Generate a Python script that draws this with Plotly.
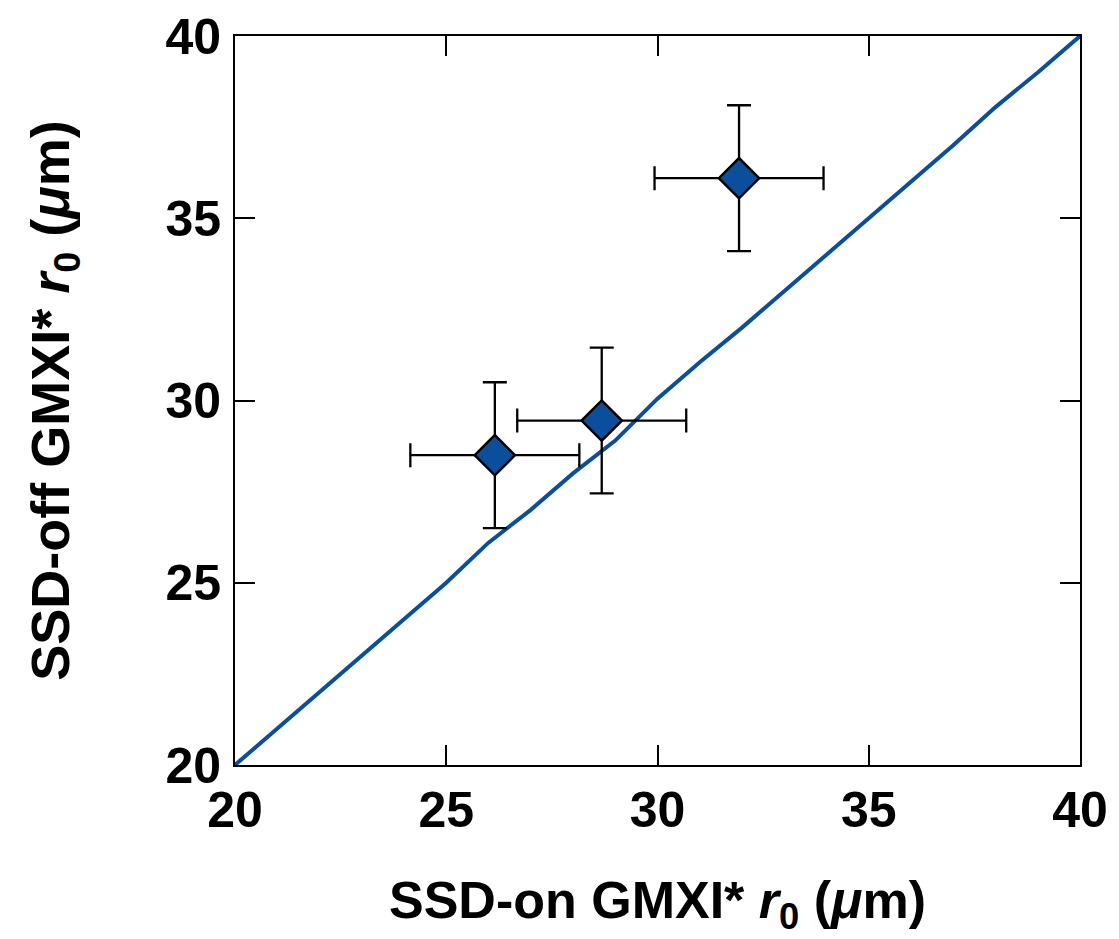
import plotly.graph_objects as go

# Data points (SSD-on vs SSD-off r0, µm)
x_on = [26.15, 28.68, 31.93]
y_off = [28.5, 29.45, 36.1]
x_err = [2.0, 2.0, 2.0]
y_err = [2.0, 2.0, 2.0]

# Reference line (approx. y = x)
line_x = [20, 21, 22, 23, 24, 25, 26, 27, 28, 29, 30, 31, 32, 33, 34, 35, 36, 37, 38, 39, 40]
line_y = [20, 21, 22, 23, 24, 25, 26.1, 27, 28, 28.9, 30.05, 31.05, 32, 33, 34, 35, 36, 37, 38.05, 39, 40]

x_ticks = [20, 25, 30, 35, 40]
y_ticks = [20, 25, 30, 35, 40]

BLUE = "#0b4f9c"
FONT = "Liberation Sans"

fig = go.Figure()
fig.add_trace(go.Scatter(x=line_x, y=line_y, mode="lines",
                         line=dict(color=BLUE, width=4), hoverinfo="skip", showlegend=False))
fig.add_trace(go.Scatter(
    x=x_on, y=y_off, mode="markers",
    marker=dict(symbol="diamond", size=31, color=BLUE, line=dict(color="black", width=2.5)),
    error_x=dict(type="data", array=x_err, color="black", thickness=2.3, width=12),
    error_y=dict(type="data", array=y_err, color="black", thickness=2.3, width=12),
    showlegend=False))

axis_common = dict(
    showgrid=False, zeroline=False, showline=True, linecolor="black", linewidth=2,
    mirror="ticks", ticks="inside", ticklen=20, tickwidth=2, tickcolor="black",
    automargin=False,
    tickfont=dict(family=FONT, size=50, color="black", weight="bold"),
)
fig.update_xaxes(range=[20, 40], tickvals=x_ticks, ticktext=[str(v) for v in x_ticks], **axis_common)
fig.update_yaxes(range=[20, 40], tickvals=y_ticks, ticktext=[str(v) for v in y_ticks],
                 ticklabelstandoff=2, **axis_common)

fig.add_annotation(text="SSD-on GMXI* <i>r</i><sub>0</sub> (<i>μ</i>m)", xref="paper", yref="paper",
                   x=0.5, y=-0.19, xanchor="center", yanchor="middle", showarrow=False,
                   font=dict(family=FONT, size=52, color="black", weight="bold"))
fig.add_annotation(text="SSD-off GMXI* <i>r</i><sub>0</sub> (<i>μ</i>m)", xref="paper", yref="paper",
                   x=-0.215, y=0.5, xanchor="center", yanchor="middle", textangle=-90, showarrow=False,
                   font=dict(family=FONT, size=54, color="black", weight="bold"))

fig.update_layout(width=1119, height=939, margin=dict(l=235, r=39, t=36, b=174, autoexpand=False),
                  plot_bgcolor="white", paper_bgcolor="white")

fig.write_html("out.html")
